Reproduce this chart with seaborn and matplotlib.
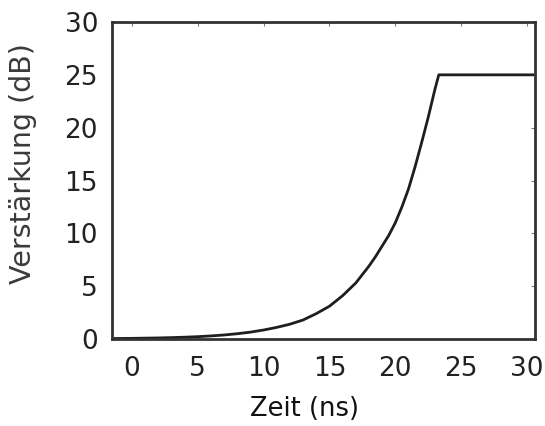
import matplotlib
matplotlib.use("Agg")
from matplotlib import pyplot as plt
import seaborn as sns
import pandas as pd

# Verstärkung über der Zeit
zeit_ns = [-1.5, -1, 0, 1, 2, 3, 4, 5, 6, 7, 8, 9, 10, 11, 12, 13, 14,
           15, 15.5, 16, 16.5, 17, 17.5, 18, 18.5, 19, 19.5, 20, 20.5,
           21, 21.5, 22, 22.5, 23, 23.3, 30.5]
verstaerkung_db = [0.04, 0.05, 0.06, 0.08, 0.10, 0.13, 0.17, 0.22, 0.29,
                   0.38, 0.50, 0.65, 0.85, 1.1, 1.4, 1.8, 2.4,
                   3.1, 3.6, 4.1, 4.7, 5.3, 6.1, 6.9, 7.8, 8.8, 9.8, 11.0, 12.5,
                   14.2, 16.3, 18.6, 21.0, 23.6, 25.0, 25.0]

x_ticks = [0, 5, 10, 15, 20, 25, 30]
y_ticks = [0, 5, 10, 15, 20, 25, 30]

sns.set_style("white")
plt.rcParams['font.family'] = ['DejaVu Sans']

df = pd.DataFrame({"zeit": zeit_ns, "db": verstaerkung_db})

fig = plt.figure(figsize=(5.45, 4.26), dpi=100)
fig.subplots_adjust(left=112 / 545, right=535 / 545,
                    top=1 - 22 / 426, bottom=1 - 339 / 426)
ax = fig.add_subplot(1, 1, 1)

sns.lineplot(data=df, x="zeit", y="db", ax=ax, color="#1e1e1e",
             linewidth=2.0, sort=False, solid_joinstyle="round")

ax.set_xlim(-1.5, 30.6)
ax.set_ylim(0, 30)
ax.set_xticks(x_ticks)
ax.set_yticks(y_ticks)
ax.tick_params(direction="in", length=3, width=0.8, colors="#777777",
               top=True, right=True, labelsize=19, labelcolor="#222222")
ax.tick_params(axis="x", pad=12.5)
ax.tick_params(axis="y", pad=10)
for sp in ax.spines.values():
    sp.set_color("#333333")
    sp.set_linewidth(2.0)

ax.set_xlabel("Zeit (ns)", fontsize=18.5, color="#111111")
ax.set_ylabel("Verstärkung (dB)", fontsize=20.5, color="#3a3a3a")
ax.xaxis.set_label_coords(0.456, -0.18)
ax.yaxis.set_label_coords(-0.178, 0.555)

fig.savefig("out.png", dpi=100)
